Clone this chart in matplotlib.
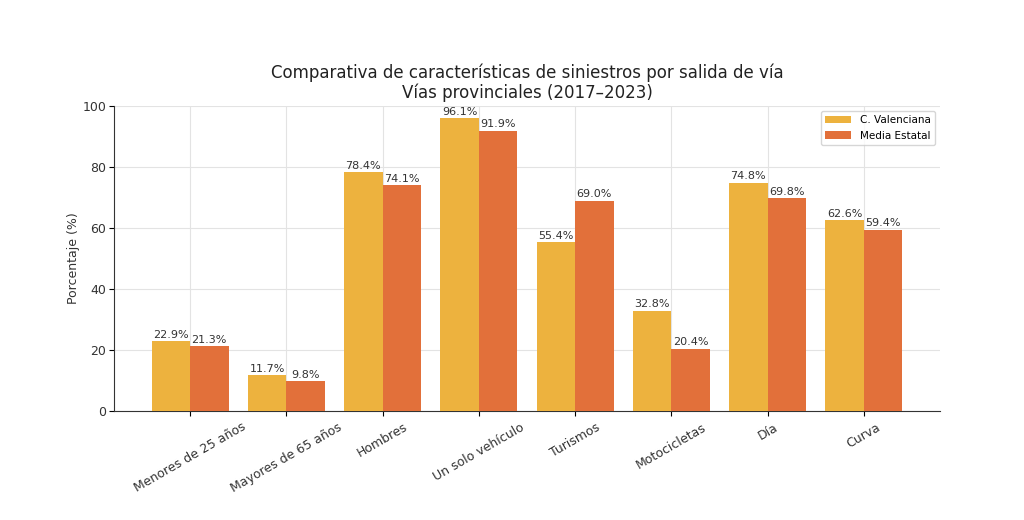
import matplotlib
matplotlib.use("Agg")
import matplotlib.pyplot as plt
import numpy as np

categories = ["Menores de 25 años", "Mayores de 65 años", "Hombres", "Un solo vehículo",
              "Turismos", "Motocicletas", "Día", "Curva"]
cv_values = [22.9, 11.7, 78.4, 96.1, 55.4, 32.8, 74.8, 62.6]
estatal_values = [21.3, 9.8, 74.1, 91.9, 69.0, 20.4, 69.8, 59.4]
series_names = ["C. Valenciana", "Media Estatal"]

fig = plt.figure(figsize=(10.24, 5.2), dpi=100)
ax = fig.add_axes([0.1113, 0.21, 0.8066, 0.586])

x = np.arange(len(categories))
w = 0.4
b1 = ax.bar(x - w/2, cv_values, w, color="#EDB23E", label=series_names[0], zorder=3)
b2 = ax.bar(x + w/2, estatal_values, w, color="#E2703A", label=series_names[1], zorder=3)
for bars in (b1, b2):
    ax.bar_label(bars, labels=[f"{v:.1f}%" for v in bars.datavalues], fontsize=8,
                 color="#333333", padding=1)

ax.set_xticks(x)
ax.set_xticklabels(categories, rotation=30, ha="center", fontsize=9, color="#333333")
ax.tick_params(axis="y", labelsize=9, labelcolor="#333333", pad=2)
ax.set_ylim(0, 100)
ax.set_ylabel("Porcentaje (%)", fontsize=9, color="#333333", labelpad=2)
ax.set_title("Comparativa de características de siniestros por salida de vía\nVías provinciales (2017–2023)",
             fontsize=12, color="#222222", linespacing=1.1)
ax.grid(True, color="#e3e3e3", linewidth=0.8, zorder=0)
ax.spines["top"].set_visible(False)
ax.spines["right"].set_visible(False)
for s in ("left", "bottom"):
    ax.spines[s].set_color("#333333")
ax.legend(loc="upper right", fontsize=7.5, frameon=True, handlelength=2.5)

fig.savefig("out.png", dpi=100)
